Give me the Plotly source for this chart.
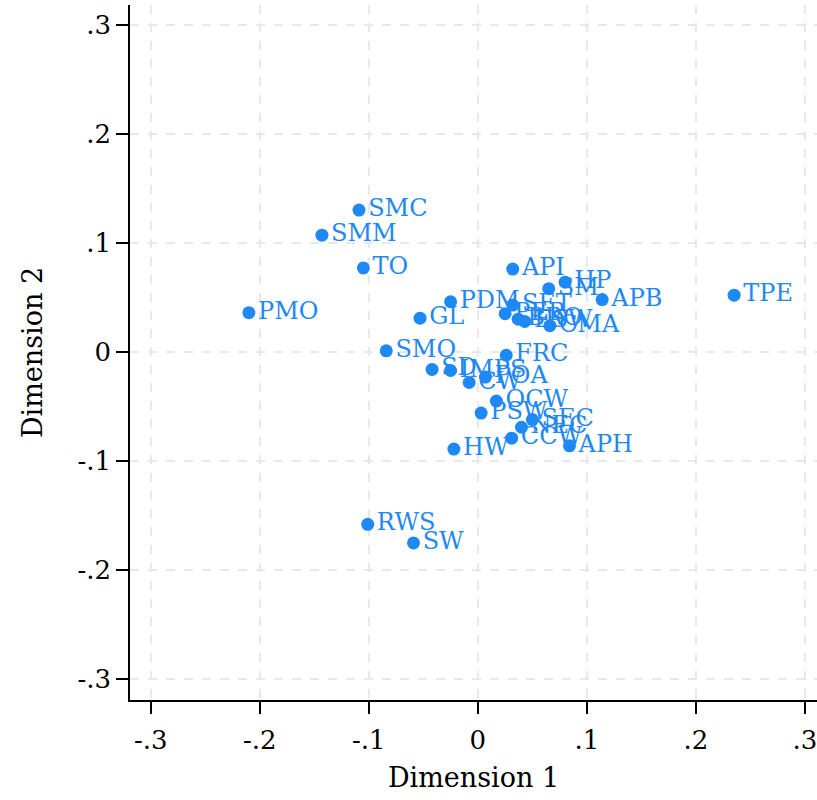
import plotly.graph_objects as go

labels = ["SMC", "SMM", "TO", "PMO", "GL", "SMO", "API", "SM", "HP", "APB", "TPE",
          "PDM", "SET", "PER", "BRO", "ESW", "CMA",
          "SD", "IMPS", "CW", "POA", "FRC", "OCW", "PSW", "SEC", "NEC", "CCW", "APH", "HW",
          "RWS", "SW"]
dim1 = [-0.109, -0.143, -0.105, -0.210, -0.053, -0.084, 0.032, 0.065, 0.080, 0.114, 0.235,
        -0.025, 0.032, 0.025, 0.037, 0.043, 0.066,
        -0.042, -0.025, -0.008, 0.007, 0.026, 0.017, 0.003, 0.050, 0.040, 0.031, 0.084, -0.022,
        -0.101, -0.059]
dim2 = [0.130, 0.107, 0.077, 0.036, 0.031, 0.001, 0.076, 0.058, 0.064, 0.048, 0.052,
        0.046, 0.043, 0.035, 0.030, 0.028, 0.024,
        -0.016, -0.017, -0.028, -0.023, -0.003, -0.045, -0.056, -0.062, -0.069, -0.079, -0.086, -0.089,
        -0.158, -0.175]

tick_vals = [-0.3, -0.2, -0.1, 0, 0.1, 0.2, 0.3]
tick_text = ["-.3", "-.2", "-.1", "0", ".1", ".2", ".3"]

blue = "#1e88f5"
font_family = "DejaVu Serif, serif"

fig = go.Figure(go.Scatter(
    x=dim1, y=dim2, mode="markers+text", text=labels,
    textposition="middle right",
    marker=dict(color=blue, size=13),
    textfont=dict(color=blue, size=24, family=font_family),
    cliponaxis=False,
))

axis_common = dict(
    tickvals=tick_vals, ticktext=tick_text,
    showgrid=True, gridcolor="#e8e8e8", gridwidth=2, griddash="dash",
    zeroline=False, showline=True, linecolor="black", linewidth=1.5,
    ticks="outside", ticklen=12, tickwidth=1.5, tickcolor="black",
    tickfont=dict(size=26, family=font_family, color="black"),
    ticklabeloverflow="allow",
)

fig.update_layout(
    width=817, height=800,
    margin=dict(l=130, r=0, t=5, b=100),
    paper_bgcolor="white", plot_bgcolor="white",
    showlegend=False,
    font=dict(family=font_family, color="black"),
    xaxis=dict(axis_common, range=[-0.319, 0.311], ticklabelstandoff=4,
               title=dict(text="Dimension 1", font=dict(size=27, family=font_family), standoff=14)),
    yaxis=dict(axis_common, range=[-0.319, 0.318],
               title=dict(text="Dimension 2", font=dict(size=27, family=font_family), standoff=27)),
)

fig.write_html("out.html")
